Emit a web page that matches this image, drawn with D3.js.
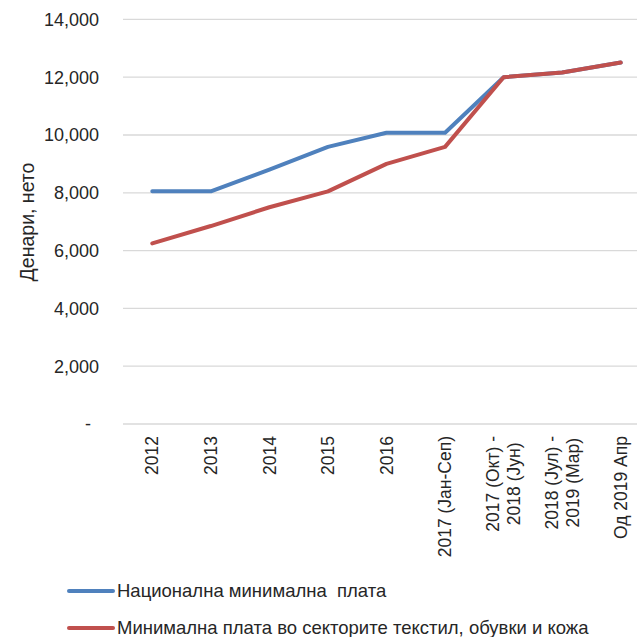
<!DOCTYPE html>
<html>
<head>
<meta charset="utf-8">
<script src="https://cdn.jsdelivr.net/npm/d3@7"></script>
<style>
  html, body { margin: 0; padding: 0; background: #fff; }
  svg { display: block; font-family: "Liberation Sans", Arial, sans-serif; }
  text { white-space: pre; }
</style>
</head>
<body>
<svg id="chart" width="637" height="637"></svg>
<script>
// ── Data ───────────────────────────────────────────────────────────────────
const categories = [
  ['2012'], ['2013'], ['2014'], ['2015'], ['2016'],
  ['2017 (Јан-Сеп)'],
  ['2017 (Окт) -', '2018 (Јун)'],
  ['2018 (Јул) -', '2019 (Мар)'],
  ['Од 2019 Апр']
];
const nationalWage = [8050, 8050, 8800, 9590, 10080, 10080, 12000, 12165, 12507];
const textileWage  = [6250, 6850, 7500, 8050, 9000, 9590, 12000, 12165, 12507];
const yTicks = [0, 2000, 4000, 6000, 8000, 10000, 12000, 14000];
const seriesNames = ['Национална минимална  плата', 'Минимална плата во секторите текстил, обувки и кожа'];
const seriesColors = ['#4f81bd', '#c0504d'];

// ── Layout ─────────────────────────────────────────────────────────────────
const svg = d3.select('#chart');
const keys = categories.map((c, i) => i);

const x = d3.scaleBand().domain(keys).range([123, 650]);
const y = d3.scaleLinear().domain([0, 14000]).range([424, 19.4]);

// gridlines
svg.append('g').selectAll('line').data(yTicks).join('line')
  .attr('x1', 123).attr('x2', 650)
  .attr('y1', d => y(d)).attr('y2', d => y(d))
  .attr('stroke', '#d9d9d9').attr('stroke-width', 1.3);

// y tick labels
const fmt = d3.format(',');
svg.append('g').selectAll('text').data(yTicks).join('text')
  .attr('x', d => d === 0 ? 91 : 99).attr('y', d => y(d))
  .attr('dy', '0.35em').attr('text-anchor', 'end')
  .attr('font-size', 18).attr('fill', '#262626')
  .text(d => d === 0 ? '-' : fmt(d));

// y title
svg.append('text')
  .attr('transform', 'translate(34,222) rotate(-90)')
  .attr('text-anchor', 'middle').attr('font-size', 19.5).attr('fill', '#262626')
  .text('Денари, нето');

// x labels (rotated, block top aligned, lines centred in block)
const labelTop = 436, lineGap = 21.5, labelSize = 17.5;
categories.forEach((lines, i) => {
  const cx = x(i) + x.bandwidth() / 2;
  const g = svg.append('g');
  const texts = lines.map((ln, j) => g.append('text')
    .attr('font-size', labelSize).attr('fill', '#262626')
    .attr('text-anchor', 'middle').attr('dy', '0.35em').text(ln));
  const maxLen = d3.max(texts, t => t.node().getComputedTextLength());
  texts.forEach((t, j) => {
    const lx = cx + (j - (lines.length - 1) / 2) * lineGap;
    t.attr('transform', `translate(${lx},${labelTop + maxLen / 2}) rotate(-90)`);
  });
});

// lines
const line = d3.line().x((d, i) => x(i) + x.bandwidth() / 2).y(d => y(d));
[nationalWage, textileWage].forEach((s, k) => {
  svg.append('path').datum(s)
    .attr('fill', 'none').attr('stroke', seriesColors[k])
    .attr('stroke-width', 4).attr('stroke-linecap', 'round').attr('stroke-linejoin', 'round')
    .attr('d', line);
});

// legend
const legY = [591, 628];
seriesNames.forEach((name, k) => {
  svg.append('line')
    .attr('x1', 69).attr('x2', 113).attr('y1', legY[k]).attr('y2', legY[k])
    .attr('stroke', seriesColors[k]).attr('stroke-width', 4).attr('stroke-linecap', 'round');
  svg.append('text')
    .attr('x', 117).attr('y', legY[k]).attr('dy', '0.35em')
    .attr('font-size', 18.5).attr('fill', '#262626')
    .text(name);
});
</script>
</body>
</html>
